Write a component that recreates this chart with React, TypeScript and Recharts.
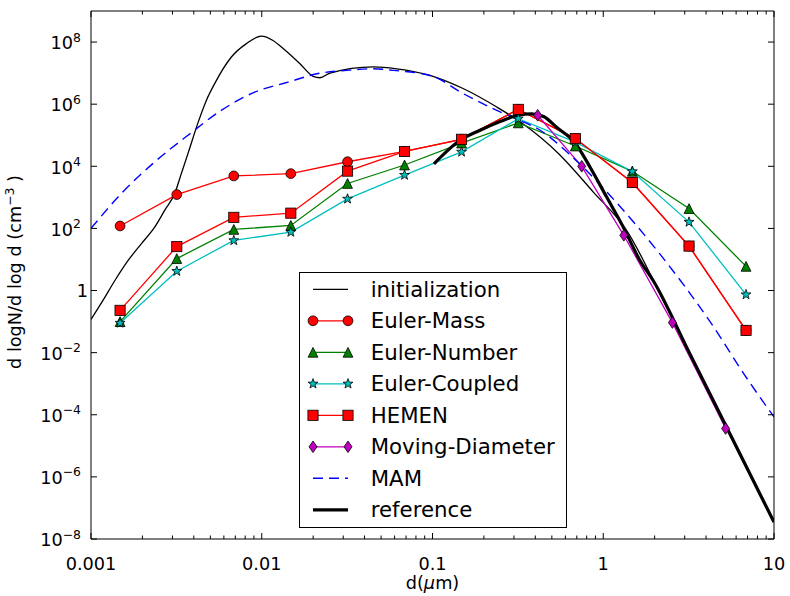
import React from 'react';
import { LineChart, Line, XAxis, YAxis, Legend } from 'recharts';

// ---------- data ----------
const binDiameters = [0.00148, 0.00318, 0.00686, 0.0148, 0.0318, 0.0686, 0.148, 0.318, 0.686, 1.48, 3.18, 6.86];
const eulerMass = [120, 1230, 4900, 5800, 14000, 30000, 74000, 680000, 78000, 3000, 27, 0.052];
const eulerNumber = [0.1, 10.7, 93, 125, 2800, 11000, 56000, 250000, 45000, 6900, 435, 6];
const eulerCoupled = [0.09, 4.2, 41, 76, 890, 5200, 29000, 340000, 60000, 6800, 160, 0.74];
const hemen = [0.23, 26, 227, 310, 7000, 30000, 74000, 680000, 78000, 3000, 27, 0.052];

const mdDiameters = [0.413, 0.748, 1.32, 2.54, 5.21];
const movingDiameter = [440000, 10000, 60, 0.093, 3.6e-5];

const initDiameters = [0.001, 0.001175, 0.001383, 0.00165, 0.00197, 0.00236, 0.0027, 0.00309, 0.00338, 0.0037, 0.00424, 0.00473, 0.0053, 0.00664, 0.00813, 0.00993, 0.01164, 0.01303, 0.01675, 0.02, 0.0219, 0.0251, 0.045, 0.0617, 0.0966, 0.151, 0.238, 0.34, 0.55, 0.875, 1.37, 2.15, 2.69, 3.98, 6.31, 10];
const initValues = [0.117, 0.48, 2.14, 9.3, 32, 110, 380, 1320, 5800, 26000, 260000, 1.3e6, 4.6e6, 3.3e7, 8.9e7, 1.55e8, 1.12e8, 6.9e7, 2.0e7, 7.9e6, 7.1e6, 1.0e7, 1.58e7, 1.38e7, 8.5e6, 3.2e6, 8.1e5, 2.3e5, 25000, 1480, 87, 0.79, 0.066, 8.1e-4, 5.1e-6, 3.5e-8];

const mamDiameters = [0.001, 0.001503, 0.00236, 0.0037, 0.00579, 0.0091, 0.01426, 0.021, 0.0316, 0.045, 0.0589, 0.1, 0.151, 0.238, 0.316, 0.427, 0.631, 1.096, 2.15, 4.22, 7.08, 10];
const mamValues = [100, 1318, 13800, 100000, 630000, 2.45e6, 5.1e6, 9.5e6, 1.23e7, 1.38e7, 1.23e7, 7.9e6, 2.2e6, 630000, 320000, 145000, 25000, 1150, 14.8, 0.1, 1.26e-3, 8.5e-5];

const refDiameters = [0.102, 0.145, 0.19, 0.251, 0.316, 0.38, 0.447, 0.533, 0.684, 0.836, 1.047, 1.31, 1.64, 1.96, 3.16, 5.62, 10];
const refValues = [12000, 69000, 145000, 280000, 440000, 490000, 400000, 180000, 56000, 9500, 1020, 110, 9.3, 2.1, 0.0112, 2.0e-5, 3.5e-8];

const seriesNames = ['initialization', 'Euler-Mass', 'Euler-Number', 'Euler-Coupled', 'HEMEN', 'Moving-Diameter', 'MAM', 'reference'];

const xMajorTicks = [0.001, 0.01, 0.1, 1, 10];
const xTickLabels = ['0.001', '0.01', '0.1', '1', '10'];
const yMajorTicks = [1e-8, 1e-6, 1e-4, 1e-2, 1, 1e2, 1e4, 1e6, 1e8];
const yTickExponents = [-8, -6, -4, -2, 0, 2, 4, 6, 8];

// ---------- helpers ----------
const FONT = '"DejaVu Sans", sans-serif';
const toPoints = (xs: number[], ys: number[]) => xs.map((x, i) => ({ x, y: ys[i] }));

const xTicks: number[] = [];
for (let e = -3; e <= 1; e++) {
  for (let m = 1; m <= 9; m++) {
    if (e === 1 && m > 1) break;
    xTicks.push(Number((m * Math.pow(10, e)).toPrecision(3)));
  }
}
const findMajor = (v: number) => xMajorTicks.findIndex((t) => Math.abs(t - v) / t < 1e-6);
const findY = (v: number) => yMajorTicks.findIndex((t) => Math.abs(t - v) / t < 1e-6);

const RED = '#ff0000';
const GREEN = '#008000';
const CYAN = '#00bfbf';
const MAGENTA = '#bf00bf';
const BLUE = '#0000ff';

type Shape = 'circle' | 'square' | 'triangle' | 'star' | 'diamond';

function Marker({ shape, cx, cy, fill }: { shape: Shape; cx: number; cy: number; fill: string }) {
  const sw = 0.8;
  if (cx == null || cy == null || isNaN(cx) || isNaN(cy)) return null;
  switch (shape) {
    case 'circle':
      return <circle cx={cx} cy={cy} r={4.9} fill={fill} stroke="#000" strokeWidth={sw} />;
    case 'square':
      return <rect x={cx - 5.1} y={cy - 5.1} width={10.2} height={10.2} fill={fill} stroke="#000" strokeWidth={sw} />;
    case 'triangle': {
      const h = 4.9;
      return <polygon points={`${cx},${cy - h} ${cx - h},${cy + h} ${cx + h},${cy + h}`} fill={fill} stroke="#000" strokeWidth={sw} />;
    }
    case 'diamond':
      return <polygon points={`${cx},${cy - 5.8} ${cx + 4},${cy} ${cx},${cy + 5.8} ${cx - 4},${cy}`} fill={fill} stroke="#000" strokeWidth={sw} />;
    case 'star': {
      const pts: string[] = [];
      for (let i = 0; i < 10; i++) {
        const r = i % 2 === 0 ? 5.2 : 2.1;
        const a = -Math.PI / 2 + (i * Math.PI) / 5;
        pts.push(`${cx + r * Math.cos(a)},${cy + r * Math.sin(a)}`);
      }
      return <polygon points={pts.join(' ')} fill={fill} stroke="#000" strokeWidth={sw} />;
    }
  }
  return null;
}

const dotFn = (shape: Shape, fill: string) => (p: any) => (
  <Marker key={`${shape}-${p.index}`} shape={shape} cx={p.cx} cy={p.cy} fill={fill} />
);

// ---------- ticks ----------
function BottomTick(props: any) {
  const { x, y, payload } = props;
  const idx = findMajor(payload.value);
  const major = idx >= 0;
  return (
    <g>
      <line x1={x} x2={x} y1={y} y2={y - (major ? 6 : 3.5)} stroke="#000" strokeWidth={1} />
      {major && (
        <text x={x} y={y + 30.5} textAnchor="middle" fontSize={17.7} fontFamily={FONT} fill="#000">
          {xTickLabels[idx]}
        </text>
      )}
    </g>
  );
}

function TopTick(props: any) {
  const { x, y, payload } = props;
  const major = findMajor(payload.value) >= 0;
  return <line x1={x} x2={x} y1={y} y2={y + (major ? 6 : 3.5)} stroke="#000" strokeWidth={1} />;
}

function LeftTick(props: any) {
  const { x, y, payload } = props;
  const idx = findY(payload.value);
  const exp = yTickExponents[idx];
  return (
    <g>
      <line x1={x} x2={x + 6} y1={y} y2={y} stroke="#000" strokeWidth={1} />
      {exp === 0 ? (
        <text x={x - 3} y={y + 6.5} textAnchor="end" fontSize={17.7} fontFamily={FONT} fill="#000">1</text>
      ) : (
        <text x={x - 10} y={y + 7.3} textAnchor="end" fontSize={17.7} fontFamily={FONT} fill="#000">
          10
          <tspan dy={-7.7} fontSize={12.4}>{exp < 0 ? `\u2212${-exp}` : `${exp}`}</tspan>
        </text>
      )}
    </g>
  );
}

function RightTick(props: any) {
  const { x, y } = props;
  return <line x1={x} x2={x - 6} y1={y} y2={y} stroke="#000" strokeWidth={1} />;
}

function XLabel(props: any) {
  const vb = props.viewBox || { x: 91, y: 539, width: 683, height: 57 };
  const cx = vb.x + vb.width / 2;
  return (
    <text x={cx} y={vb.y + 50} textAnchor="middle" fontSize={17.7} fontFamily={FONT} fill="#000">
      d(<tspan fontStyle="italic">{'\u03bc'}</tspan>m)
    </text>
  );
}

function YLabel(props: any) {
  const vb = props.viewBox || { x: 0, y: 11, width: 91, height: 528 };
  const cx = 21;
  const cy = vb.y + vb.height / 2 - 3;
  return (
    <text x={cx} y={cy} transform={`rotate(-90 ${cx} ${cy})`} textAnchor="middle" fontSize={17.7} fontFamily={FONT} fill="#000">
      d logN/d log d (cm
      <tspan dy={-7} fontSize={12.4}>{'\u22123'}</tspan>
      <tspan dy={7}> )</tspan>
    </text>
  );
}

// ---------- legend ----------
const legendStyles: { color: string; width: number; dash?: string; shape?: Shape; fill?: string }[] = [
  { color: '#000', width: 1.3 },
  { color: RED, width: 1.3, shape: 'circle', fill: RED },
  { color: GREEN, width: 1.3, shape: 'triangle', fill: GREEN },
  { color: CYAN, width: 1.3, shape: 'star', fill: CYAN },
  { color: RED, width: 1.3, shape: 'square', fill: RED },
  { color: MAGENTA, width: 1.3, shape: 'diamond', fill: MAGENTA },
  { color: BLUE, width: 1.4, dash: '10 6' },
  { color: '#000', width: 3.2 },
];

function LegendBox() {
  return (
    <svg width={268} height={256} style={{ display: 'block' }}>
      <rect x={0.5} y={0.5} width={267} height={255} fill="#fff" stroke="#000" strokeWidth={1} />
      {seriesNames.map((name, i) => {
        const st = legendStyles[i];
        const cy = 17.3 + i * 31.5;
        return (
          <g key={name}>
            <line x1={14} x2={49} y1={cy} y2={cy} stroke={st.color} strokeWidth={st.width} strokeDasharray={st.dash} />
            {st.shape && <Marker shape={st.shape} cx={14} cy={cy} fill={st.fill!} />}
            {st.shape && <Marker shape={st.shape} cx={49} cy={cy} fill={st.fill!} />}
            <text x={71.7} y={cy + 7.4} fontSize={21.3} fontFamily={FONT} fill="#000">{name}</text>
          </g>
        );
      })}
    </svg>
  );
}

export default function App() {
  const common = { xAxisId: 'b', yAxisId: 'l', dataKey: 'y', isAnimationActive: false, activeDot: false } as any;
  return (
    <div style={{ position: 'absolute', left: 0, top: 0, width: 790, height: 596, background: '#fff', fontFamily: FONT }}>
      <LineChart width={790} height={596} margin={{ top: 10, right: 15, bottom: 0, left: 0 }}>
        <XAxis
          xAxisId="b"
          type="number"
          dataKey="x"
          scale="log"
          domain={[0.001, 10]}
          allowDataOverflow
          ticks={xTicks}
          interval={0}
          tickSize={0}
          tickMargin={0}
          tickLine={false}
          axisLine={{ stroke: '#000', strokeWidth: 1 }}
          height={57}
          tick={BottomTick}
          label={{ content: XLabel }}
        />
        <XAxis
          xAxisId="t"
          orientation="top"
          type="number"
          dataKey="x"
          scale="log"
          domain={[0.001, 10]}
          allowDataOverflow
          ticks={xTicks}
          interval={0}
          tickSize={0}
          tickMargin={0}
          tickLine={false}
          axisLine={{ stroke: '#000', strokeWidth: 1 }}
          height={1}
          tick={TopTick}
        />
        <YAxis
          yAxisId="l"
          type="number"
          scale="log"
          domain={[1e-8, 1e9]}
          allowDataOverflow
          ticks={yMajorTicks}
          interval={0}
          tickSize={0}
          tickMargin={0}
          tickLine={false}
          axisLine={{ stroke: '#000', strokeWidth: 1 }}
          width={91}
          tick={LeftTick}
          label={{ content: YLabel }}
        />
        <YAxis
          yAxisId="r"
          orientation="right"
          type="number"
          scale="log"
          domain={[1e-8, 1e9]}
          allowDataOverflow
          ticks={yMajorTicks}
          interval={0}
          tickSize={0}
          tickMargin={0}
          tickLine={false}
          axisLine={{ stroke: '#000', strokeWidth: 1 }}
          width={1}
          tick={RightTick}
        />
        <Line {...common} name="initialization" data={toPoints(initDiameters, initValues)} type="monotone" stroke="#000" strokeWidth={1.3} dot={false} />
        <Line {...common} name="Euler-Mass" data={toPoints(binDiameters, eulerMass)} type="linear" stroke={RED} strokeWidth={1.3} dot={dotFn('circle', RED)} />
        <Line {...common} name="Euler-Number" data={toPoints(binDiameters, eulerNumber)} type="linear" stroke={GREEN} strokeWidth={1.3} dot={dotFn('triangle', GREEN)} />
        <Line {...common} name="Euler-Coupled" data={toPoints(binDiameters, eulerCoupled)} type="linear" stroke={CYAN} strokeWidth={1.3} dot={dotFn('star', CYAN)} />
        <Line {...common} name="HEMEN" data={toPoints(binDiameters, hemen)} type="linear" stroke={RED} strokeWidth={1.3} dot={dotFn('square', RED)} />
        <Line {...common} name="Moving-Diameter" data={toPoints(mdDiameters, movingDiameter)} type="linear" stroke={MAGENTA} strokeWidth={1.3} dot={dotFn('diamond', MAGENTA)} />
        <Line {...common} name="MAM" data={toPoints(mamDiameters, mamValues)} type="monotone" stroke={BLUE} strokeWidth={1.4} strokeDasharray="10 6" dot={false} />
        <Line {...common} name="reference" data={toPoints(refDiameters, refValues)} type="monotone" stroke="#000" strokeWidth={3.2} dot={false} />
        <Legend
          layout="vertical"
          align="center"
          verticalAlign="middle"
          content={LegendBox}
          wrapperStyle={{ left: 299, top: 272, width: 268, height: 256 }}
        />
      </LineChart>
    </div>
  );
}
